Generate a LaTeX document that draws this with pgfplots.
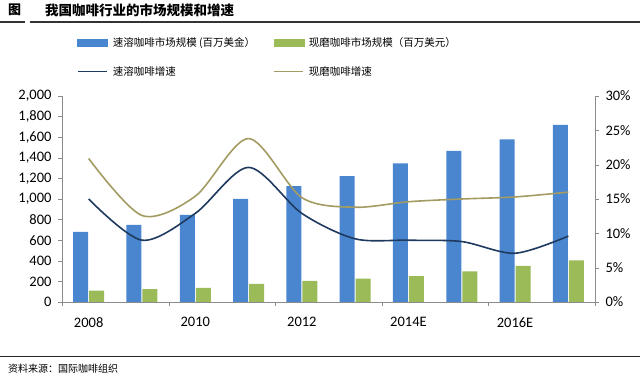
\documentclass[border=0pt]{standalone}
\usepackage{pgfplots}
\usepackage{pgfplotstable}
\pgfplotsset{compat=1.18}
\usepackage{fontspec}
\setmainfont{Carlito}
\newfontfamily\cjk{Noto Sans CJK SC}
\definecolor{barblue}{HTML}{4A86D0}
\definecolor{bargreen}{HTML}{9BBB59}
\definecolor{linenavy}{HTML}{1F3A5F}
\definecolor{lineolive}{HTML}{A39C62}
\definecolor{axisgray}{HTML}{8C8C8C}

\pgfplotstableread{
x inst ground instg groundg
0 680 110 15.0 20.9
1 748 126 9.0 12.6
2 845 136 12.9 15.4
3 1000 175 19.6 23.8
4 1126 204 12.9 15.2
5 1222 226 9.2 13.8
6 1346 252 9.0 14.6
7 1466 298 8.8 15.0
8 1580 350 7.1 15.3
9 1720 405 9.6 16.0
}\data

\begin{document}
\begin{tikzpicture}[x=1pt,y=1pt]
\useasboundingbox (0,0) rectangle (640,382);
\fill[white] (0,0) rectangle (640,382);
\node[anchor=west, inner sep=0pt, font=\cjk\bfseries\fontsize{13}{15}\selectfont] at (8,372) {图};
\node[anchor=west, inner sep=0pt, font=\cjk\bfseries\fontsize{13.5}{15}\selectfont] at (45,372) {我国咖啡行业的市场规模和增速};
\draw[line width=1.3pt, black!80] (0,360) -- (25,360);
\draw[line width=1.3pt, black!80] (30,360) -- (640,360);
\draw[line width=1pt, black!85] (0,25) -- (640,25);
\node[anchor=west, inner sep=0pt, font=\cjk\fontsize{10}{12}\selectfont] at (8,13) {资料来源：国际咖啡组织};

\begin{axis}[
  at={(62pt,80pt)}, anchor=south west, scale only axis,
  width=533pt, height=206pt,
  ybar=1pt, bar width=15pt,
  xmin=-0.5, xmax=9.5, ymin=0, ymax=2000,
  ytick={0,200,...,2000},
  xtick={-0.5,1.5,3.5,5.5,7.5,9.5},
  xticklabels={2008,2010,2012,2014E,2016E,},
  xticklabel style={xshift=26.65pt, yshift=-8pt},
  yticklabel style={xshift=-3pt},
  axis x line*=bottom, axis y line*=left,
  axis line style={axisgray,-},
  tick style={axisgray},
  tick align=outside, major tick length=4pt,
  ticklabel style={font=\fontsize{14.5}{16}\selectfont},
  /pgf/number format/assume math mode=true,
  /pgf/number format/1000 sep={,},
  scaled y ticks=false,
  clip=false,
]
\addplot[fill=barblue, draw=none] table[x=x, y=inst] {\data};
\addplot[fill=bargreen, draw=none] table[x=x, y=ground] {\data};
\end{axis}

\begin{axis}[
  at={(62pt,80pt)}, anchor=south west, scale only axis,
  width=533pt, height=206pt,
  xmin=-0.5, xmax=9.5, ymin=0, ymax=30,
  ytick={0,5,...,30},
  yticklabel={\pgfmathprintnumber{\tick}\%},
  yticklabel style={xshift=3pt},
  axis x line=none, axis y line*=right,
  axis line style={axisgray,-},
  tick style={axisgray},
  tick align=outside, major tick length=4pt,
  ticklabel style={font=\fontsize{14.5}{16}\selectfont},
  /pgf/number format/assume math mode=true,
  legend columns=2,
  legend cell align=left,
  legend style={
    at={(axis description cs:0.028,1.296)}, anchor=north west,
    draw=none, fill=none, inner sep=0pt,
    font=\cjk\fontsize{10.5}{12}\selectfont,
    row sep=15pt, column sep=3pt,
    /tikz/every even column/.append style={column sep=16pt},
  },
]
\addlegendimage{legend image code/.code={\fill[barblue] (0pt,-3.5pt) rectangle (30pt,3.5pt);}}
\addlegendentry{速溶咖啡市场规模 (百万美金）}
\addlegendimage{legend image code/.code={\fill[bargreen] (0pt,-3.5pt) rectangle (30pt,3.5pt);}}
\addlegendentry{现磨咖啡市场规模（百万美元）}
\addplot[linenavy, line width=1.6pt, smooth, no markers,
  legend image code/.code={\draw[linenavy, line width=1pt] (0pt,0pt) -- (29pt,0pt);}]
  table[x=x, y=instg] {\data};
\addlegendentry{速溶咖啡增速}
\addplot[lineolive, line width=1.6pt, smooth, no markers,
  legend image code/.code={\draw[lineolive, line width=1pt] (0pt,0pt) -- (29pt,0pt);}]
  table[x=x, y=groundg] {\data};
\addlegendentry{现磨咖啡增速}
\end{axis}
\end{tikzpicture}
\end{document}
